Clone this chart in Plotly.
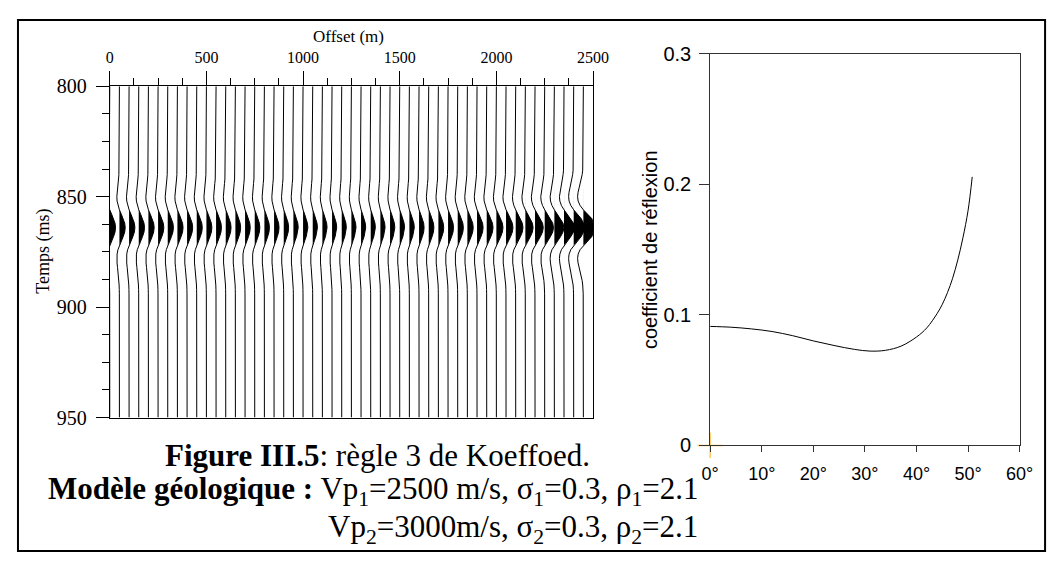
import numpy as np
import plotly.graph_objects as go

# page is 1064x571; the html body keeps its default 8px margin,
# so the figure is drawn smaller and everything is placed in page pixels
PAGE_W, PAGE_H = 1064, 571
OFF = 8
W, H = PAGE_W - OFF, PAGE_H - 2 * OFF

# --- left panel: synthetic gather (Koeffoed rule 3) ---
offsets_m = list(range(0, 2500, 50))
trace_amp = [0.0910, 0.0910, 0.0910, 0.0905, 0.0903, 0.0898, 0.0892, 0.0885, 0.0878, 0.0868,
             0.0855, 0.0846, 0.0835, 0.0822, 0.0810, 0.0800, 0.0788, 0.0777, 0.0766, 0.0757,
             0.0748, 0.0738, 0.0730, 0.0725, 0.0722, 0.0722, 0.0725, 0.0729, 0.0735, 0.0745,
             0.0757, 0.0770, 0.0790, 0.0810, 0.0833, 0.0858, 0.0885, 0.0915, 0.0950, 0.0990,
             0.1035, 0.1085, 0.1140, 0.1210, 0.1290, 0.1380, 0.1490, 0.1620, 0.1790, 0.2030]
wavelet_t = list(range(834, 896, 2))
wavelet = [-0.012, -0.026, -0.051, -0.092, -0.153, -0.235, -0.327, -0.409, -0.446, -0.403,
           -0.253, 0.006, 0.335, 0.665, 0.910, 1.000, 0.910, 0.665, 0.335, 0.006,
           -0.253, -0.403, -0.446, -0.409, -0.327, -0.235, -0.153, -0.092, -0.051, -0.026, -0.012]
time_ticks = [800, 850, 900, 950]

# --- right panel: reflection coefficient vs incidence angle ---
angle_deg = [0, 4, 8, 12, 16, 20, 24, 28, 31, 34, 37, 40, 42, 44, 45, 46, 47, 48, 49, 50, 50.8]
refl_coef = [0.0911, 0.0905, 0.0892, 0.0872, 0.0840, 0.0800, 0.0765, 0.0735, 0.0722, 0.0728,
             0.0760, 0.0830, 0.0900, 0.1010, 0.1080, 0.1170, 0.1280, 0.1420, 0.1590, 0.1800, 0.2056]
angle_ticks = [0, 10, 20, 30, 40, 50, 60]
angle_labels = [f"{a}°" for a in angle_ticks]
rc_ticks = [0, 0.1, 0.2, 0.3]
rc_labels = ["0", "0.1", "0.2", "0.3"]
origin_x, origin_y = [0], [0]

GAIN = 330.0   # offset metres per unit amplitude
CLIP = 50.0    # one trace spacing

SERIF = "Liberation Serif"
SANS = "Liberation Sans"


def px(x):
    return (x - OFF) / W


def py(y):
    return 1 - (y - OFF) / H


wav = np.array(wavelet)
line_x, line_y, fill_x, fill_y = [], [], [], []
for off, amp in zip(offsets_m, trace_amp):
    dx = np.clip(GAIN * amp * wav, -CLIP, CLIP)
    line_x += [off] + list(off + dx) + [off, None]
    line_y += [time_ticks[0]] + wavelet_t + [time_ticks[-1], None]
    fill_x += list(off + np.maximum(dx, 0)) + [None]
    fill_y += wavelet_t + [None]

fig = go.Figure()

fig.add_trace(go.Scatter(x=fill_x, y=fill_y, mode="lines", fill="toself",
                         fillcolor="black", line=dict(width=0, color="black"),
                         hoverinfo="skip", showlegend=False))
fig.add_trace(go.Scatter(x=line_x, y=line_y, mode="lines",
                         line=dict(width=1, color="black"),
                         hoverinfo="skip", showlegend=False))

fig.add_trace(go.Scatter(x=angle_deg, y=refl_coef, xaxis="x2", yaxis="y2", mode="lines",
                         line=dict(width=1, color="black", shape="spline"),
                         showlegend=False))
fig.add_trace(go.Scatter(x=origin_x, y=origin_y, xaxis="x2", yaxis="y2", mode="markers",
                         marker=dict(symbol="cross-thin", size=18,
                                     line=dict(width=1.5, color="#FFC860")),
                         cliponaxis=False, hoverinfo="skip", showlegend=False))

fig.update_layout(
    width=W, height=H,
    margin=dict(l=0, r=0, t=0, b=0),
    paper_bgcolor="white", plot_bgcolor="white",
    font=dict(family=SERIF, color="black"),
    xaxis=dict(domain=[px(103), px(598)], range=[0, 2500], side="top", anchor="y",
               tick0=0, dtick=500, ticks="outside", ticklen=14, tickcolor="black",
               minor=dict(dtick=125, ticklen=7, ticks="outside", tickcolor="black"),
               showline=True, linecolor="black", linewidth=1, mirror=True,
               showgrid=False, zeroline=False, ticklabelstandoff=2,
               tickfont=dict(family=SERIF, size=16)),
    yaxis=dict(domain=[py(423), py(78)], range=[950, 800], anchor="x",
               tick0=800, dtick=50, ticks="outside", ticklen=13, tickcolor="black",
               minor=dict(dtick=12.5, ticklen=7, ticks="outside", tickcolor="black"),
               showline=True, linecolor="black", linewidth=1, mirror=True,
               showgrid=False, zeroline=False, ticklabelstandoff=5,
               tickfont=dict(family=SERIF, size=20)),
    xaxis2=dict(domain=[px(718), px(1035)], range=[0, 60], anchor="y2",
                tickvals=angle_ticks, ticktext=angle_labels, ticks="outside",
                ticklen=6, tickcolor="#333", showline=True, linecolor="#333",
                linewidth=1, mirror=True, showgrid=False, zeroline=False,
                ticklabelstandoff=6, tickfont=dict(family=SANS, size=18)),
    yaxis2=dict(domain=[py(452), py(44)], range=[0, 0.3], anchor="x2",
                tickvals=rc_ticks, ticktext=rc_labels, ticks="outside",
                ticklen=10, tickcolor="#333", showline=True, linecolor="#333",
                linewidth=1, mirror=True, showgrid=False, zeroline=False,
                ticklabelstandoff=4, tickfont=dict(family=SANS, size=20)),
)

annotations = [
    dict(x=px(348), y=py(26), text="Offset (m)", font=dict(family=SERIF, size=17)),
    dict(x=px(35), y=py(250), text="Temps (ms)", textangle=-90,
         font=dict(family=SERIF, size=18)),
    dict(x=px(657), y=py(248), text="coefficient de réflexion", textangle=-90,
         font=dict(family=SANS, size=20)),
    dict(x=px(377), y=py(463), text="<b>Figure III.5</b>: règle 3 de Koeffoed.",
         font=dict(family=SERIF, size=31)),
    dict(x=px(708), y=py(500), xanchor="right",
         text="<b>Modèle géologique :</b> Vp<sub>1</sub>=2500 m/s, σ<sub>1</sub>=0.3, ρ<sub>1</sub>=2.1",
         font=dict(family=SERIF, size=31)),
    dict(x=px(708), y=py(539), xanchor="right",
         text="Vp<sub>2</sub>=3000m/s, σ<sub>2</sub>=0.3, ρ<sub>2</sub>=2.1",
         font=dict(family=SERIF, size=31)),
]
for a in annotations:
    a.setdefault("xanchor", "center")
    fig.add_annotation(xref="paper", yref="paper", yanchor="middle", showarrow=False, **a)

# frame around the whole figure
fig.add_shape(type="rect", xref="paper", yref="paper",
              x0=px(9), x1=px(1061), y0=py(562), y1=py(9),
              line=dict(color="black", width=2))

fig.write_html("out.html", config={"displayModeBar": False})
